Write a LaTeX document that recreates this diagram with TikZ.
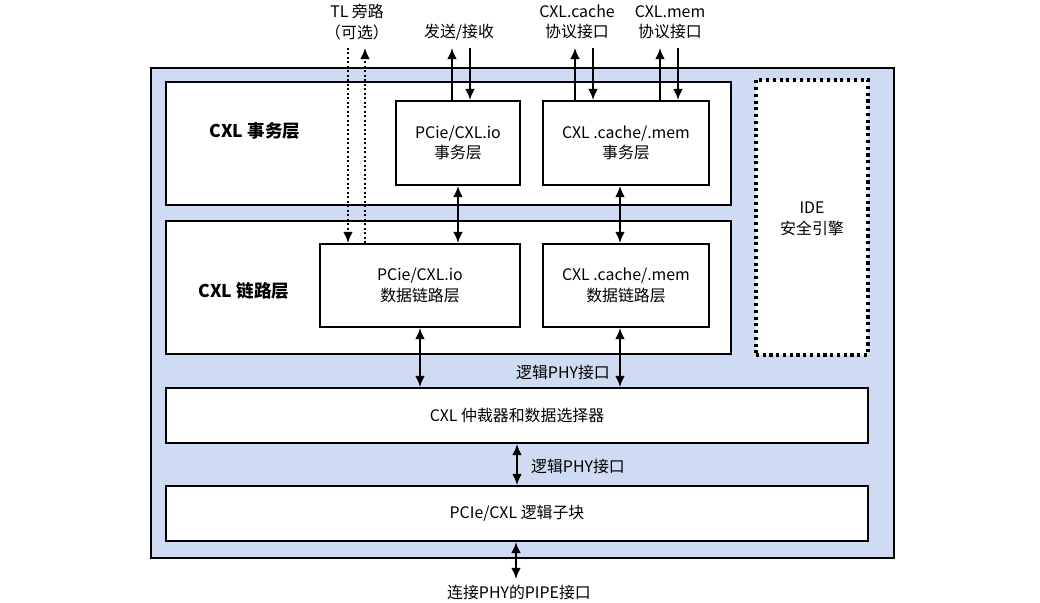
\documentclass[tikz,border=0pt]{standalone}
\usepackage{fontspec}
\setmainfont{Noto Sans CJK SC}
\usepackage{xcolor}
\usepackage{tikz}
\usetikzlibrary{arrows.meta,positioning}
\definecolor{cxlblue}{RGB}{206,219,243}
\tikzstyle{outerbox} = [rectangle, minimum width=18.575cm, minimum height=12.25cm, draw=black, line width=1.4pt, fill=cxlblue]
\tikzstyle{layer} = [rectangle, minimum width=14.125cm, draw=black, line width=1.4pt, fill=white]
\tikzstyle{block} = [rectangle, minimum height=2.1cm, text centered, align=center, draw=black, line width=1.4pt, fill=white]
\tikzstyle{wideblock} = [rectangle, minimum width=17.55cm, minimum height=1.375cm, text centered, draw=black, line width=1.4pt, fill=white]
\tikzstyle{engine} = [rectangle, minimum width=2.8cm, minimum height=6.875cm, draw=black, line width=2.2pt, dash pattern=on 2.2pt off 2.6pt, fill=white]
\tikzstyle{label} = [align=center]
\tikzstyle{title} = [font=\fontsize{12.5}{15}\selectfont\bfseries]
\tikzstyle{arrow} = [line width=1.4pt, -{Latex[length=8pt,width=7pt]}]
\tikzstyle{biarrow} = [line width=1.4pt, {Latex[length=8pt,width=7pt]}-{Latex[length=8pt,width=7pt]}]
\tikzstyle{bypass} = [line width=1.4pt, dash pattern=on 1.4pt off 1.8pt, -{Latex[length=8pt,width=7pt]}]

\begin{document}
\begin{tikzpicture}[x=0.025cm, y=-0.025cm, font=\fontsize{11.3}{14.5}\selectfont]

        \useasboundingbox (0,0) rectangle (1040,603);

        % Cadre CXL
        \node (outer) [outerbox] at (522.5,313) {};

        % Couches
        \node (tlLayer) [layer, minimum height=3.075cm] at (448.5,143.5) {};
        \node (dlLayer) [layer, minimum height=3.325cm] at (448.5,287.5) {};
        \node (tlTitle) [title] at (255,131) {CXL 事务层};
        \node (dlTitle) [title] at (244,291) {CXL 链路层};

        \node (ide) [engine] at (812,217.5) {};
        \node (ideText) [label, anchor=north] at (812,197) {IDE\\安全引擎};

        % Blocs
        \node (ioTL) [block, minimum width=3.1cm] at (458,143) {PCie/CXL.io\\事务层};
        \node (cmTL) [block, minimum width=4.15cm] at (626,143) {CXL .cache/.mem\\事务层};
        \node (ioDL) [block, minimum width=5cm, minimum height=2.075cm] at (420,285.5) {PCie/CXL.io\\数据链路层};
        \node (cmDL) [block, minimum width=4.15cm, minimum height=2.075cm] at (626,285.5) {CXL .cache/.mem\\数据链路层};
        \node (arb) [wideblock] at (517,415.5) {CXL 仲裁器和数据选择器};
        \node (logic) [wideblock] at (517,513.5) {PCIe/CXL 逻辑子块};

        % Interfaces externes
        \node (bypassLbl) [label] at (357,22) {TL 旁路\\（可选）};
        \node (txrxLbl) [label] at (459,32) {发送/接收};
        \node (cacheLbl) [label] at (577,22) {CXL.cache\\协议接口};
        \node (memLbl) [label] at (670,22) {CXL.mem\\协议接口};
        \node (phyLbl1) [label] at (563,372) {逻辑PHY接口};
        \node (phyLbl2) [label] at (578,466) {逻辑PHY接口};
        \node (pipeLbl) [label] at (519,592) {连接PHY的PIPE接口};

        \coordinate (bypassIn) at (348,48);
        \coordinate (bypassOut) at (365,48);
        \coordinate (ioUp) at (452,48);
        \coordinate (ioDown) at (470,48);
        \coordinate (cacheUp) at (575,48);
        \coordinate (cacheDown) at (593,48);
        \coordinate (memUp) at (660,48);
        \coordinate (memDown) at (678,48);
        \coordinate (ioLink) at (458,0);
        \coordinate (cmLink) at (620,0);
        \coordinate (pipe) at (516,579);

        % Flèches
        \draw [bypass] (bypassIn) -- (bypassIn |- ioDL.north);
        \draw [bypass] (bypassOut |- ioDL.north) -- (bypassOut);
        \draw [arrow] (ioUp |- ioTL.north) -- (ioUp);
        \draw [arrow] (ioDown) -- (ioDown |- ioTL.north);
        \draw [arrow] (cacheUp |- cmTL.north) -- (cacheUp);
        \draw [arrow] (cacheDown) -- (cacheDown |- cmTL.north);
        \draw [arrow] (memUp |- cmTL.north) -- (memUp);
        \draw [arrow] (memDown) -- (memDown |- cmTL.north);

        \draw [biarrow] (ioLink |- ioTL.south) -- (ioLink |- ioDL.north);
        \draw [biarrow] (cmLink |- cmTL.south) -- (cmLink |- cmDL.north);
        \draw [biarrow] (ioDL.south) -- (ioDL.south |- arb.north);
        \draw [biarrow] (cmLink |- cmDL.south) -- (cmLink |- arb.north);
        \draw [biarrow] (arb.south) -- (logic.north);
        \draw [biarrow] (logic.south -| pipe) -- (pipe);

    \end{tikzpicture}
\end{document}
